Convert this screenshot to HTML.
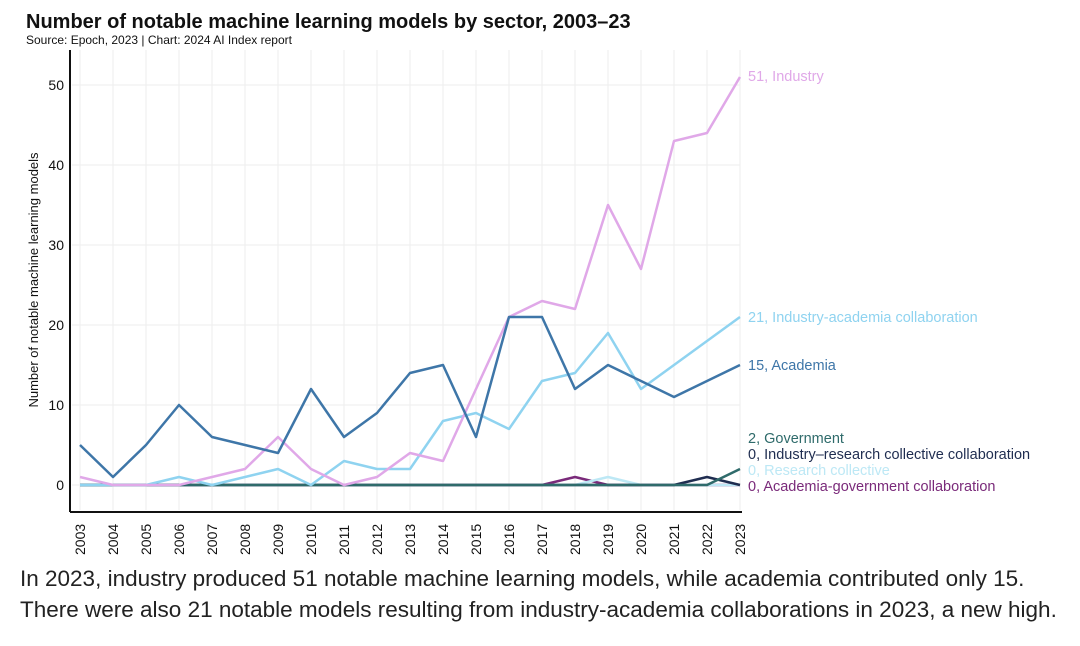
<!DOCTYPE html><html><head><style>body{margin:0;background:#fff;width:1080px;height:641px;overflow:hidden;font-family:"Liberation Sans",sans-serif}</style></head><body>
<svg width="1080" height="641" xmlns="http://www.w3.org/2000/svg" font-family="Liberation Sans, sans-serif">
<text x="26" y="28" font-size="20" font-weight="bold" fill="#111">Number of notable machine learning models by sector, 2003–23</text>
<text x="26" y="44" font-size="12" fill="#111">Source: Epoch, 2023 | Chart: 2024 AI Index report</text>
<g stroke="#eee" stroke-width="1" id="grid"></g>
<line x1="70" y1="50" x2="70" y2="512" stroke="#111" stroke-width="2"/>
<line x1="70" y1="512" x2="742" y2="512" stroke="#111" stroke-width="2"/>
<g font-size="14" fill="#111" text-anchor="end">
<text x="64" y="490">0</text><text x="64" y="410">10</text><text x="64" y="330">20</text><text x="64" y="250">30</text><text x="64" y="170">40</text><text x="64" y="90">50</text></g>
<text transform="translate(38,280) rotate(-90)" font-size="13" fill="#111" text-anchor="middle">Number of notable machine learning models</text>
<g id="xl" font-size="14" fill="#111"></g>
<g id="lines" fill="none" stroke-width="2.5" stroke-linejoin="round"></g>
<g font-size="14.5">
<text x="748" y="81" fill="#e0a8e8">51, Industry</text>
<text x="748" y="322" fill="#8fd3f0">21, Industry-academia collaboration</text>
<text x="748" y="370" fill="#3e76a8">15, Academia</text>
<text x="748" y="443" fill="#2f6b6b">2, Government</text>
<text x="748" y="459" fill="#1f2d50">0, Industry–research collective collaboration</text>
<text x="748" y="475" fill="#bde8f5">0, Research collective</text>
<text x="748" y="491" fill="#7a2a7a">0, Academia-government collaboration</text>
</g>
</svg>
<div style="position:absolute;left:20px;top:563px;font-size:22.5px;line-height:31px;color:#222;white-space:nowrap">In 2023, industry produced 51 notable machine learning models, while academia contributed only 15.<br>There were also 21 notable models resulting from industry-academia collaborations in 2023, a new high.</div>
<script>
const X=y=>80+(y-2003)*33,Y=v=>485-8*v,ns="http://www.w3.org/2000/svg";
const g=document.getElementById('grid'),xl=document.getElementById('xl'),L=document.getElementById('lines');
for(let y=2003;y<=2023;y++){let l=document.createElementNS(ns,'line');l.setAttribute('x1',X(y));l.setAttribute('x2',X(y));l.setAttribute('y1',50);l.setAttribute('y2',510);g.appendChild(l);
let t=document.createElementNS(ns,'text');t.setAttribute('transform',`translate(${X(y)+5},555) rotate(-90)`);t.textContent=y;xl.appendChild(t);}
for(let v=0;v<=50;v+=10){let l=document.createElementNS(ns,'line');l.setAttribute('x1',72);l.setAttribute('x2',740);l.setAttribute('y1',Y(v));l.setAttribute('y2',Y(v));g.appendChild(l);}
const S=[
['#7a2a7a',[0,0,0,0,0,0,0,0,0,0,0,0,0,0,0,1,0,0,0,0,0]],
['#bde8f5',[0,0,0,0,0,0,0,0,0,0,0,0,0,0,0,0,1,0,0,0,0]],
['#1f2d50',[0,0,0,0,0,0,0,0,0,0,0,0,0,0,0,0,0,0,0,1,0]],
['#2f6b6b',[0,0,0,0,0,0,0,0,0,0,0,0,0,0,0,0,0,0,0,0,2]],
['#8fd3f0',[0,0,0,1,0,1,2,0,3,2,2,8,9,7,13,14,19,12,15,18,21]],
['#e0a8e8',[1,0,0,0,1,2,6,2,0,1,4,3,12,21,23,22,35,27,43,44,51]],
['#3e76a8',[5,1,5,10,6,5,4,12,6,9,14,15,6,21,21,12,15,13,11,13,15]]];
for(const[c,d]of S){let p=document.createElementNS(ns,'polyline');p.setAttribute('stroke',c);p.setAttribute('points',d.map((v,i)=>X(2003+i)+','+Y(v)).join(' '));L.appendChild(p);}
</script>
</body></html>
